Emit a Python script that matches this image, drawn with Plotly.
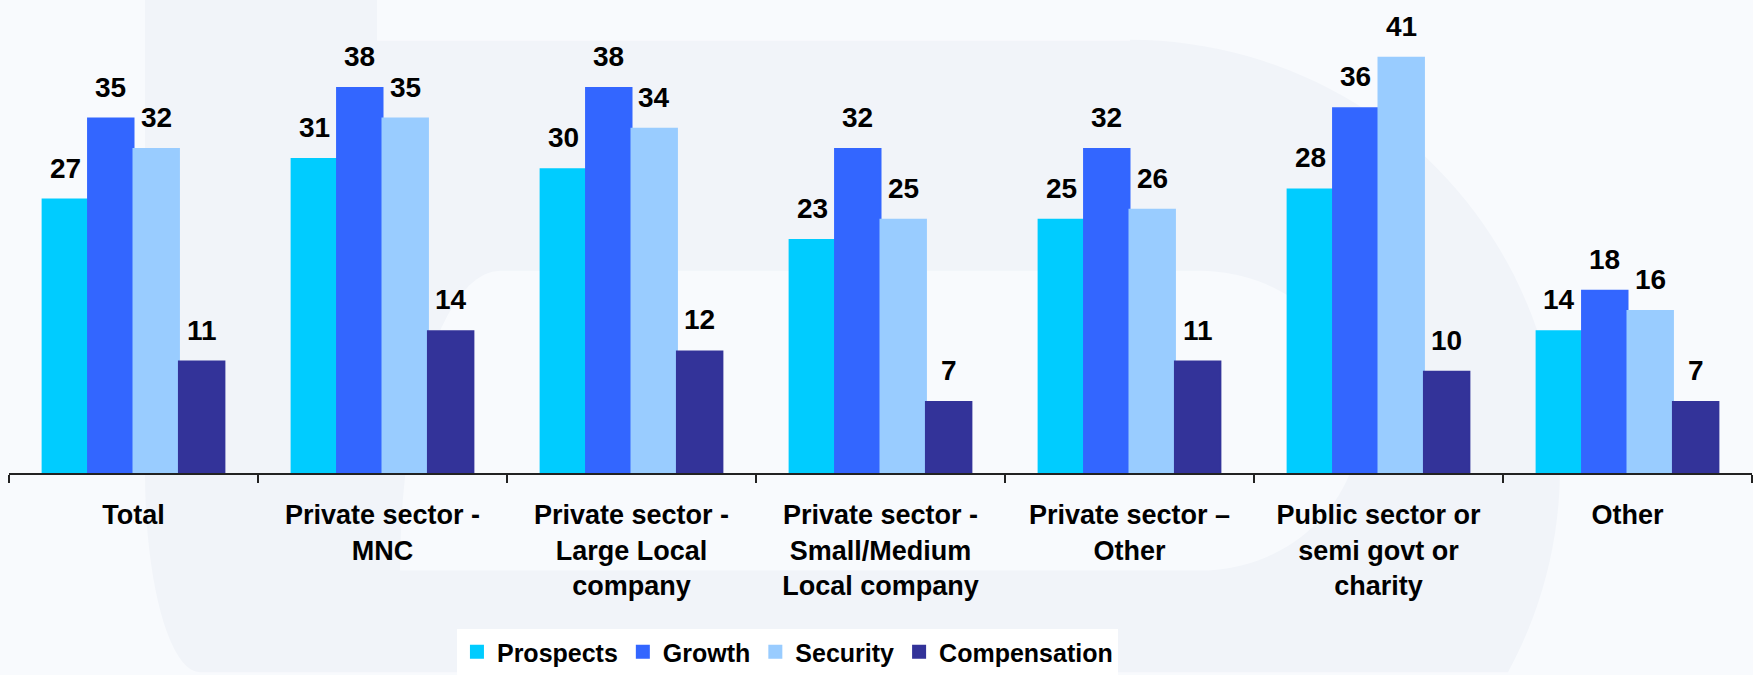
import math
import plotly.graph_objects as go

categories = [
    "Total",
    "Private sector -<br>MNC",
    "Private sector -<br>Large Local<br>company",
    "Private sector -<br>Small/Medium<br>Local company",
    "Private sector \u2013<br>Other",
    "Public sector or<br>semi govt or<br>charity",
    "Other",
]
series_names = ["Prospects", "Growth", "Security", "Compensation"]
prospects = [27, 31, 30, 23, 25, 28, 14]
growth = [35, 38, 38, 32, 32, 36, 18]
security = [32, 35, 34, 25, 26, 41, 16]
compensation = [11, 14, 12, 7, 11, 10, 7]
series_values = [prospects, growth, security, compensation]
colors = ["#00CCFF", "#3366FF", "#99CCFF", "#333399"]

FONT = "Liberation Sans, Arial, sans-serif"
BARGAP = 0.27
BG = "#F8FAFD"
MARK = "#F1F4F9"

W, H = 1753, 675
ML, MR, MT, MB = 9, 1, 0, 200
PW, PH = W - ML - MR, H - MT - MB


def to_paper(px, py):
    return (px - ML) / PW, (MT + PH - py) / PH


def path_from(points):
    pts = [to_paper(x, y) for x, y in points]
    return "M" + " L".join(f"{x:.5f},{y:.5f}" for x, y in pts) + " Z"


def arc(cx, cy, rx, ry, a0, a1, steps=60):
    return [(cx + rx * math.cos(math.radians(a0 + (a1 - a0) * k / steps)),
             cy + ry * math.sin(math.radians(a0 + (a1 - a0) * k / steps)))
            for k in range(steps + 1)]


# faint "D" emblem behind the bars
outer = [(145, 0), (377, 0), (377, 41), (1130, 41)]
end_ang = math.degrees(math.asin((675 - 470) / 430))
outer += arc(1130, 470, 430, 430, -90, end_ang)
outer += [(200, 675)]
outer += arc(200, 475, 55, 200, 90, 180, 20)
inner = [(500, 272), (1200, 272)]
inner += arc(1200, 422.5, 160, 150.5, -90, 90)
inner += [(400, 573)]
inner += arc(500, 573, 100, 301, 180, 270, 20)

shapes = [
    dict(type="path", path=path_from(outer), xref="paper", yref="paper",
         fillcolor=MARK, line=dict(width=0), layer="below"),
    dict(type="path", path=path_from(inner), xref="paper", yref="paper",
         fillcolor=BG, line=dict(width=0), layer="below"),
]

fig = go.Figure()
for name, vals, col in zip(series_names, series_values, colors):
    fig.add_trace(go.Bar(
        name=f"<b>{name}</b>", x=categories, y=vals,
        marker=dict(color=col, line=dict(width=2, color=col)),
        hovertemplate=f"{name}: %{{y}}<extra></extra>",
    ))

# value labels above each bar, positioned from the group geometry
n = len(series_names)
bar_w = (1 - BARGAP) / n
annotations = []
for j, vals in enumerate(series_values):
    off = (j - (n - 1) / 2) * bar_w
    for i, v in enumerate(vals):
        annotations.append(dict(
            x=i + off, y=v, xref="x", yref="y",
            text=f"<b>{v}</b>", showarrow=False,
            yanchor="bottom", xanchor="center", yshift=14,
            font=dict(family=FONT, size=28, color="black"),
        ))

fig.update_layout(
    width=W, height=H,
    margin=dict(l=ML, r=MR, t=MT, b=MB),
    barmode="group", bargap=BARGAP, bargroupgap=0,
    paper_bgcolor=BG, plot_bgcolor="rgba(0,0,0,0)",
    font=dict(family=FONT, color="black"),
    annotations=annotations,
    shapes=shapes,
    showlegend=True,
    legend=dict(
        orientation="h", x=0.257, xanchor="left", y=-0.33, yanchor="top",
        bgcolor="white", font=dict(family=FONT, size=25, color="black"),
        traceorder="normal", itemclick=False, itemdoubleclick=False,
        tracegroupgap=0,
    ),
)
fig.update_xaxes(
    type="category", showline=True, linecolor="#222222", linewidth=2,
    ticks="outside", tickson="boundaries", ticklen=8, tickwidth=2, tickcolor="#222222",
    tickfont=dict(family=FONT, size=27, color="black"),
    tickprefix="<b>", ticksuffix="</b>", ticklabelstandoff=17,
    showgrid=False, zeroline=False, fixedrange=True,
)
fig.update_yaxes(
    range=[0, 46.7], visible=False, showgrid=False, zeroline=False, fixedrange=True,
)

fig.write_html("out.html")
